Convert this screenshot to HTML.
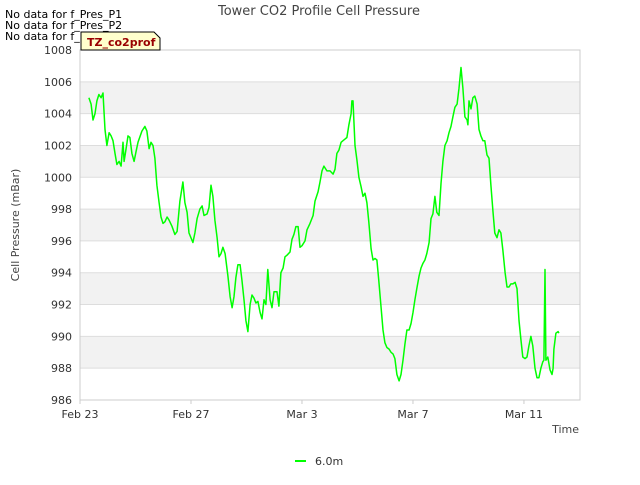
<!DOCTYPE html>
<html><head><meta charset="utf-8"><style>
body{margin:0;background:#fff;font-family:"Liberation Sans","DejaVu Sans",sans-serif}
svg text{font-family:"DejaVu Sans","Liberation Sans",sans-serif}
</style></head><body>
<svg id="c" width="640" height="480" viewBox="0 0 640 480">
<rect width="640" height="480" fill="#fff"/>
<g id="bands"></g><g id="grid"></g>
<rect x="80" y="50" width="500" height="350" fill="none" stroke="#ccc"/>
<g id="yt"></g><g id="xt"></g>
<path id="line" fill="none" stroke="#00ff00" stroke-width="1.5" stroke-linejoin="round"/>
<text x="319" y="15" text-anchor="middle" font-size="13" fill="#444">Tower CO2 Profile Cell Pressure</text>
<text x="5" y="18" font-size="11" fill="#000">No data for f_Pres_P1</text>
<text x="5" y="29" font-size="11" fill="#000">No data for f_Pres_P2</text>
<text x="5" y="40" font-size="11" fill="#000">No data for f_Pres_P4</text>
<g><path d="M81,32 H154 L160,38 V50 H81 Z" fill="#ffffcc" stroke="#000"/>
<text x="87" y="46" font-size="11" font-weight="bold" fill="#990000">TZ_co2prof</text></g>
<text x="19" y="225" transform="rotate(-90 19 225)" text-anchor="middle" font-size="11" fill="#444">Cell Pressure (mBar)</text>
<text x="579" y="433" text-anchor="end" font-size="11" fill="#444">Time</text>
<g><line x1="295" y1="461" x2="306" y2="461" stroke="#00ff00" stroke-width="2"/>
<text x="315" y="465" font-size="11" fill="#333">6.0m</text></g>
</svg>
<script>
const days=[0.32,0.40,0.47,0.54,0.61,0.68,0.76,0.83,0.90,0.97,1.05,1.12,1.19,1.26,1.33,1.41,1.48,1.55,1.59,1.66,
1.73,1.80,1.87,1.95,2.02,2.09,2.23,2.34,2.41,2.49,2.56,2.63,2.70,2.77,2.85,2.92,2.99,3.06,3.14,3.21,
3.32,3.42,3.50,3.60,3.71,3.78,3.86,3.93,4.07,4.14,4.22,4.32,4.40,4.47,4.58,4.65,4.72,4.79,4.86,4.94,
5.01,5.08,5.15,5.23,5.33,5.41,5.48,5.55,5.62,5.69,5.77,5.84,5.91,5.98,6.05,6.13,6.20,6.27,6.34,6.41,
6.49,6.56,6.63,6.70,6.77,6.85,6.92,6.99,7.10,7.17,7.24,7.32,7.39,7.46,7.57,7.64,7.71,7.78,7.86,7.93,
8.00,8.11,8.18,8.29,8.40,8.47,8.58,8.65,8.72,8.79,8.90,9.01,9.12,9.19,9.26,9.33,9.41,9.48,9.55,9.62,
9.69,9.77,9.80,9.84,9.91,9.98,10.05,10.13,10.20,10.27,10.34,10.41,10.49,10.56,10.63,10.70,10.77,10.85,10.92,10.99,
11.06,11.14,11.21,11.28,11.35,11.42,11.50,11.57,11.64,11.71,11.78,11.86,11.93,12.00,12.07,12.14,12.22,12.29,12.36,12.43,
12.50,12.58,12.65,12.72,12.79,12.86,12.94,13.01,13.08,13.15,13.23,13.30,13.37,13.44,13.51,13.59,13.66,13.73,13.80,13.87,
13.95,13.98,14.02,14.09,14.16,14.23,14.31,14.38,14.45,14.52,14.59,14.67,14.74,14.81,14.88,14.95,15.03,15.10,15.17,15.24,
15.32,15.39,15.46,15.53,15.60,15.68,15.75,15.82,15.89,15.96,16.04,16.11,16.18,16.25,16.32,16.40,16.47,16.54,16.61,16.68,
16.72,16.76,16.79,16.86,16.94,17.01,17.05,17.08,17.15,17.23,17.26,17.30];
const pressure=[1005.0,1004.6,1003.6,1004.0,1004.8,1005.2,1005.0,1005.3,1003.0,1002.0,1002.8,1002.6,1002.3,1001.5,1000.8,1001.0,1000.7,1002.2,1001.0,1001.8,
1002.6,1002.5,1001.5,1001.0,1001.6,1002.2,1002.9,1003.2,1002.9,1001.8,1002.2,1002.0,1001.2,999.5,998.4,997.5,997.1,997.2,997.5,997.3,
996.9,996.4,996.6,998.5,999.7,998.4,997.8,996.5,995.9,996.5,997.4,998.0,998.2,997.6,997.7,998.1,999.5,998.8,997.3,996.2,
995.0,995.2,995.6,995.2,993.8,992.5,991.8,992.5,993.7,994.5,994.5,993.5,992.3,991.0,990.3,992.0,992.6,992.4,992.1,992.2,
991.5,991.1,992.3,992.0,994.2,992.3,991.8,992.8,992.8,991.9,994.0,994.3,995.0,995.1,995.3,996.1,996.4,996.9,996.9,995.6,
995.7,996.0,996.7,997.1,997.6,998.5,999.1,999.7,1000.4,1000.7,1000.4,1000.4,1000.2,1000.5,1001.5,1001.7,1002.2,1002.3,1002.4,1002.5,
1003.3,1004.0,1004.8,1004.8,1002.0,1001.1,1000.0,999.4,998.8,999.0,998.4,997.2,995.5,994.8,994.9,994.8,993.5,991.8,990.4,989.6,
989.3,989.2,989.0,988.9,988.6,987.6,987.2,987.6,988.5,989.5,990.4,990.4,990.8,991.5,992.3,993.0,993.8,994.3,994.6,994.8,
995.2,995.9,997.4,997.7,998.8,997.8,997.6,999.6,1001.0,1002.0,1002.3,1002.8,1003.2,1003.8,1004.4,1004.6,1005.6,1006.9,1005.6,1003.8,
1003.6,1003.3,1004.8,1004.3,1005.0,1005.1,1004.6,1003.0,1002.6,1002.3,1002.3,1001.4,1001.2,999.5,997.9,996.5,996.2,996.7,996.5,995.4,
994.0,993.1,993.1,993.3,993.3,993.4,993.0,991.0,989.8,988.7,988.6,988.7,989.4,990.0,989.4,988.0,987.4,987.4,988.0,988.4,
988.5,994.2,988.5,988.7,987.9,987.6,988.0,989.2,990.2,990.3,990.2];
const yTicks=[986,988,990,992,994,996,998,1000,1002,1004,1006,1008];
const xTickDays=[0,4,8,12,16];
const xTickLabels=["Feb 23","Feb 27","Mar 3","Mar 7","Mar 11"];
const X0=80,X1=580,Y0=400,Y1=50,DMAX=18.02,PMIN=986,PMAX=1008;
const xs=d=>X0+d/DMAX*(X1-X0);
const ys=p=>Y0-(p-PMIN)/(PMAX-PMIN)*(Y0-Y1);
const NS="http://www.w3.org/2000/svg";
function mk(t,a,parent){const e=document.createElementNS(NS,t);for(const k in a)e.setAttribute(k,a[k]);document.getElementById(parent).appendChild(e);return e;}
for(let i=0;i<yTicks.length-1;i++){
  if(i%2===1){const b=mk('rect',{x:X0,y:ys(yTicks[i+1]),width:X1-X0,height:ys(yTicks[i])-ys(yTicks[i+1]),fill:'#f2f2f2'},'bands');
  
  }
}
yTicks.forEach(v=>{
  const l=mk('line',{x1:X0,x2:X1,y1:ys(v),y2:ys(v),stroke:'#dddddd'},'grid');
  
  
  const t=mk('text',{x:X0-8,y:ys(v)+4,'text-anchor':'end','font-size':'11',fill:'#333'},'yt');
  t.textContent=v;
  
  
});
xTickDays.forEach((d,i)=>{
  const l=mk('line',{x1:xs(d),x2:xs(d),y1:Y0,y2:Y0+4,stroke:'#ccc'},'xt');
  
  
  const t=mk('text',{x:xs(d),y:Y0+18,'text-anchor':'middle','font-size':'11',fill:'#333'},'xt');
  t.textContent=xTickLabels[i];
  
  
});
document.getElementById('line').setAttribute('d',days.map((d,i)=>(i?'L':'M')+xs(d).toFixed(1)+','+ys(pressure[i]).toFixed(1)).join(''));
</script>
</body></html>
